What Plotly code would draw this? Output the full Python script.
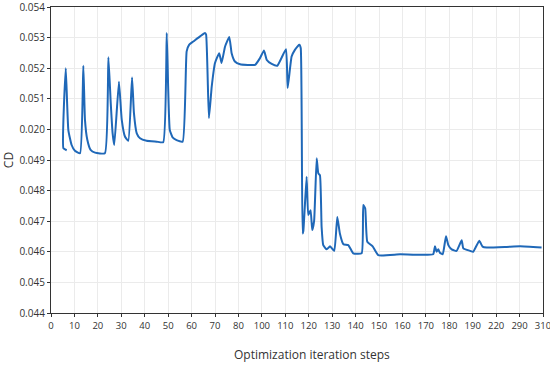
import plotly.graph_objects as go

# x positions are in axis units (each labelled tick interval = 10 units)
step_pos = [6.7, 5.3, 6.3, 7.4, 8.8, 10.2, 12.4, 13.8, 14.5, 15.5, 16.9, 18.8, 23.0,
            24.5, 25.5, 26.3, 27.0, 29.0, 30.2, 31.6, 33.0, 34.6, 35.4, 36.6, 38.0,
            40.8, 45.1, 47.9, 49.4, 50.0, 50.7, 51.9, 53.6, 56.2, 57.9, 59.0, 60.7,
            63.6, 65.7, 66.2, 67.4, 68.6, 70.0, 71.8, 72.8, 74.3, 76.1, 77.1, 78.5,
            80.7, 87.1, 89.2, 90.9, 92.1, 94.2, 96.6, 100.3, 101.0, 102.7, 104.1,
            106.0, 106.6, 107.4, 107.7, 109.1, 109.8, 110.8, 111.5, 112.3, 113.4,
            114.1, 114.8, 115.5, 116.2, 117.7, 119.1, 120.9, 122.2, 123.3, 124.8,
            126.9, 129.0, 132.6, 133.3, 134.1, 135.0, 137.3, 139.7, 149.0, 163.1,
            163.9, 164.6, 165.3, 166.0, 167.2, 168.6, 169.6, 171.0, 173.1, 175.3,
            176.0, 178.9, 180.2, 182.8, 184.2, 186.0, 194.5, 200.2, 209.4]
cd_values = [0.04932, 0.04938, 0.05200, 0.04998, 0.04949, 0.04930, 0.04922, 0.05208,
             0.05031, 0.04966, 0.04933, 0.04924, 0.04922, 0.05236, 0.05086, 0.04987,
             0.04949, 0.05156, 0.05031, 0.04976, 0.04963, 0.05170, 0.05053, 0.04987,
             0.04971, 0.04963, 0.04960, 0.04958, 0.05315, 0.05140, 0.04998, 0.04974,
             0.04965, 0.04960, 0.05255, 0.05277, 0.05287, 0.05304, 0.05315, 0.05310,
             0.05037, 0.05140, 0.05217, 0.05249, 0.05217, 0.05271, 0.05302, 0.05249,
             0.05222, 0.05213, 0.05211, 0.05233, 0.05258, 0.05227, 0.05214, 0.05208,
             0.05262, 0.05135, 0.05238, 0.05260, 0.05277, 0.05265, 0.04660, 0.04668,
             0.04845, 0.04720, 0.04736, 0.04671, 0.04700, 0.04906, 0.04856, 0.04850,
             0.04682, 0.04622, 0.04608, 0.04618, 0.04603, 0.04714, 0.04660, 0.04625,
             0.04622, 0.04595, 0.04595, 0.04753, 0.04742, 0.04633, 0.04618, 0.04589,
             0.04592, 0.04592, 0.04618, 0.04600, 0.04608, 0.04597, 0.04592, 0.04651,
             0.04622, 0.04608, 0.04603, 0.04638, 0.04611, 0.04603, 0.04600, 0.04636,
             0.04617, 0.04614, 0.04616, 0.04618, 0.04614]

x_tick_pos = [0, 10, 20, 30, 40, 50, 60, 70, 80, 90, 100, 110, 120, 130, 140, 150,
              160, 170, 180, 190, 200, 210]
x_tick_labels = ["0", "10", "20", "30", "40", "50", "60", "70", "80", "100", "110",
                 "120", "130", "140", "150", "160", "170", "180", "190", "220", "290", "310"]
y_tick_vals = [0.044, 0.045, 0.046, 0.047, 0.048, 0.049, 0.050, 0.051, 0.052, 0.053, 0.054]
y_tick_labels = ["0.044", "0.045", "0.046", "0.047", "0.048", "0.049", "0.020",
                 "0.051", "0.052", "0.053", "0.054"]
x_title = "Optimization iteration steps"
y_title = "CD"

fig = go.Figure()
fig.add_trace(go.Scatter(x=step_pos, y=cd_values, mode="lines",
                         line=dict(color="#1f68b8", width=2, shape="spline", smoothing=0.4),
                         showlegend=False, cliponaxis=False, hoverinfo="skip"))

font_family = "Open Sans, Noto Sans, sans-serif"
fig.update_layout(
    width=550, height=368,
    margin=dict(l=51, r=7, t=7, b=55),
    paper_bgcolor="white", plot_bgcolor="white",
    font=dict(family=font_family, color="#333333", size=11),
)
fig.add_annotation(text=x_title, xref="paper", yref="paper", x=0.53, y=-0.135,
                   xanchor="center", yanchor="middle", showarrow=False,
                   font=dict(size=12, color="#333333"))
fig.update_xaxes(range=[0, 210], tickmode="array", tickvals=x_tick_pos, ticktext=x_tick_labels,
                 automargin=False, ticklabeloverflow="allow",
                 showgrid=True, gridcolor="#ebebeb", gridwidth=1,
                 showline=True, linecolor="#333333", linewidth=1.2, mirror=True,
                 ticks="outside", ticklen=3, tickcolor="#333333", zeroline=False,
                 tickfont=dict(size=9.5))
fig.update_yaxes(range=[0.044, 0.054], tickmode="array", tickvals=y_tick_vals, ticktext=y_tick_labels,
                 automargin=False, ticklabeloverflow="allow",
                 showgrid=True, gridcolor="#ebebeb", gridwidth=1,
                 showline=True, linecolor="#333333", linewidth=1.2, mirror=True,
                 ticks="outside", ticklen=3, tickcolor="#333333", zeroline=False,
                 tickfont=dict(size=10),
                 title=dict(text=y_title, font=dict(size=12), standoff=6))

fig.write_html("out.html", config={"displayModeBar": False},
               post_script="document.body.style.margin='0px';")
